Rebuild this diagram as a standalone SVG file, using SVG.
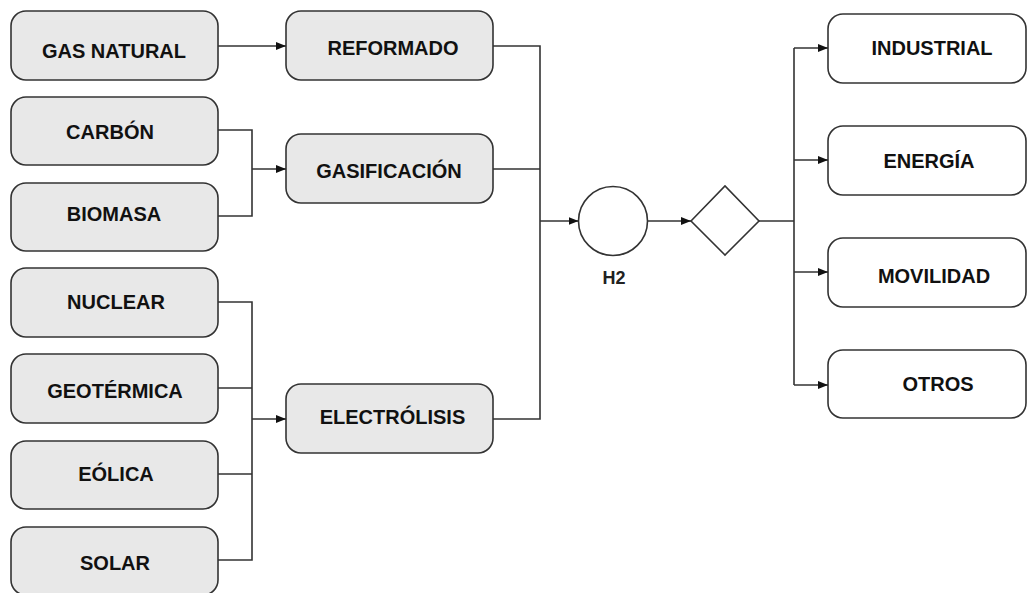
<svg xmlns="http://www.w3.org/2000/svg" width="1027" height="593" viewBox="0 0 1027 593">
<style>
.box{fill:#e8e8e8;stroke:#333;stroke-width:1.6}
.out{fill:#fff;stroke:#333;stroke-width:1.6}
.lbl{font-family:"Liberation Sans",Arial,sans-serif;font-weight:bold;font-size:20px;fill:#111;text-anchor:middle}
.con{fill:none;stroke:#333;stroke-width:1.6}
.arr{marker-end:url(#ah)}
</style>
<defs>
<marker id="ah" viewBox="0 0 10 8" refX="10" refY="4" markerWidth="10" markerHeight="8" markerUnits="userSpaceOnUse" orient="auto">
<path d="M0 0L10 4L0 8Z" fill="#111"/>
</marker>
</defs>
<rect width="1027" height="593" fill="#fff"/>
<g id="gas-natural"><rect class="box" x="11" y="11" width="207" height="69" rx="15"/><text class="lbl" x="114" y="58">GAS NATURAL</text></g>
<g id="carbon"><rect class="box" x="11" y="97" width="207" height="68" rx="15"/><text class="lbl" x="110" y="138.5">CARBÓN</text></g>
<g id="biomasa"><rect class="box" x="11" y="183" width="207" height="68" rx="15"/><text class="lbl" x="114" y="221">BIOMASA</text></g>
<g id="nuclear"><rect class="box" x="11" y="268" width="207" height="69" rx="15"/><text class="lbl" x="116" y="309">NUCLEAR</text></g>
<g id="geotermica"><rect class="box" x="11" y="354" width="207" height="69" rx="15"/><text class="lbl" x="115" y="398">GEOTÉRMICA</text></g>
<g id="eolica"><rect class="box" x="11" y="441" width="207" height="68" rx="15"/><text class="lbl" x="116" y="481">EÓLICA</text></g>
<g id="solar"><rect class="box" x="11" y="527" width="207" height="68" rx="15"/><text class="lbl" x="115" y="569.5">SOLAR</text></g>
<g id="reformado"><rect class="box" x="286" y="11" width="207" height="69" rx="15"/><text class="lbl" x="393" y="54.5">REFORMADO</text></g>
<g id="gasificacion"><rect class="box" x="286" y="134" width="207" height="69" rx="15"/><text class="lbl" x="389" y="178">GASIFICACIÓN</text></g>
<g id="electrolisis"><rect class="box" x="286" y="384" width="207" height="69" rx="15"/><text class="lbl" x="392.5" y="423.5">ELECTRÓLISIS</text></g>
<g id="h2"><circle cx="613" cy="221" r="34.5" fill="#fff" stroke="#333" stroke-width="1.6"/><text x="614" y="284" font-family="Liberation Sans,Arial,sans-serif" font-weight="bold" font-size="18" fill="#222" text-anchor="middle">H2</text></g>
<g id="decision"><path d="M691 221L725 186L759 221L725 255Z" fill="#fff" stroke="#333" stroke-width="1.6"/></g>
<g id="industrial"><rect class="out" x="828" y="14" width="198" height="69" rx="15"/><text class="lbl" x="932" y="54.5">INDUSTRIAL</text></g>
<g id="energia"><rect class="out" x="828" y="126" width="198" height="69" rx="15"/><text class="lbl" x="929" y="167.5">ENERGÍA</text></g>
<g id="movilidad"><rect class="out" x="828" y="238" width="198" height="69" rx="15"/><text class="lbl" x="934" y="283">MOVILIDAD</text></g>
<g id="otros"><rect class="out" x="828" y="350" width="198" height="68" rx="15"/><text class="lbl" x="938" y="391">OTROS</text></g>
<g id="connectors">
<path class="con arr" d="M218 46H286"/>
<path class="con" d="M218 130H252V216H218"/>
<path class="con arr" d="M252 169H286"/>
<path class="con" d="M218 302H252V560H218M218 388H252M218 474H252"/>
<path class="con arr" d="M252 419H286"/>
<path class="con" d="M493 46H540V419H493M493 169H540"/>
<path class="con arr" d="M540 221H578.5"/>
<path class="con arr" d="M647.5 221H691"/>
<path class="con" d="M759 221H794M794 48V385"/>
<path class="con arr" d="M794 48H828"/>
<path class="con arr" d="M794 160H828"/>
<path class="con arr" d="M794 272H828"/>
<path class="con arr" d="M794 385H828"/>
</g>
</svg>
